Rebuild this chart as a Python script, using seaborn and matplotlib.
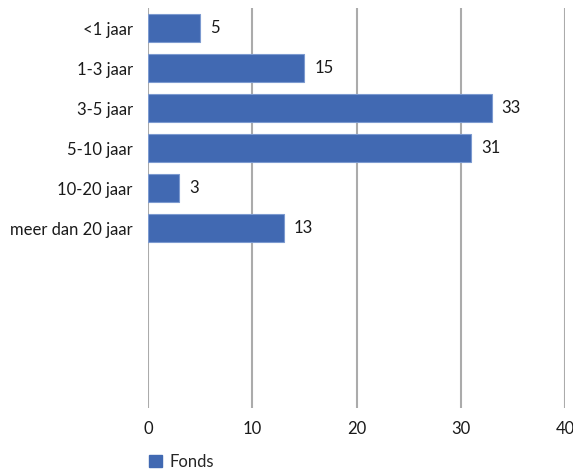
import matplotlib
matplotlib.use("Agg")
import matplotlib.pyplot as plt
import pandas as pd
import seaborn as sns

# dati
categorie = ["<1 jaar", "1-3 jaar", "3-5 jaar", "5-10 jaar", "10-20 jaar", "meer dan 20 jaar"]
valori = [5, 15, 33, 31, 3, 13]
serie = "Fonds"
x_ticks = [0, 10, 20, 30, 40]

df = pd.DataFrame({"Categorie": categorie, "Valore": valori, "Serie": serie})

sns.set_style("white")
plt.rcParams["font.family"] = ["Lato", "DejaVu Sans"]

blu = "#4169B2"
testo = "#1A1A1A"
fig = plt.figure(figsize=(5.73, 4.75), dpi=100)
ax = fig.add_axes([148 / 573, 1 - 408 / 475, (565 - 148) / 573, 400 / 475])

sns.barplot(data=df, x="Valore", y="Categorie", hue="Serie", order=categorie,
            palette=[blu], saturation=1, orient="h", width=0.68, ax=ax,
            edgecolor="#7C9AD0", linewidth=0.8, legend=False)

# 10 posizioni in totale: le ultime 4 restano vuote
ax.set_ylim(9.5, -0.5)
ax.set_xlim(0, 40)
ax.set_xticks(x_ticks)
ax.xaxis.grid(True, color="#ABABAB", linewidth=1.5)
ax.set_axisbelow(True)
for s in ax.spines.values():
    s.set_visible(False)
ax.set_xlabel("")
ax.set_ylabel("")
ax.tick_params(axis="both", length=0, labelsize=12, colors=testo)
ax.tick_params(axis="y", pad=11)
ax.tick_params(axis="x", pad=9)

for c in ax.containers:
    ax.bar_label(c, labels=[str(v) for v in valori], padding=7, fontsize=12, color=testo)

# legenda in basso
h = plt.Rectangle((0, 0), 1, 1, color=blu)
fig.legend([h], [serie], loc="center left", bbox_to_anchor=(134 / 573, 1 - 462 / 475),
           frameon=False, fontsize=12, handlelength=0.75, handleheight=0.75, handletextpad=0.5)

fig.savefig("out.png", dpi=100)
